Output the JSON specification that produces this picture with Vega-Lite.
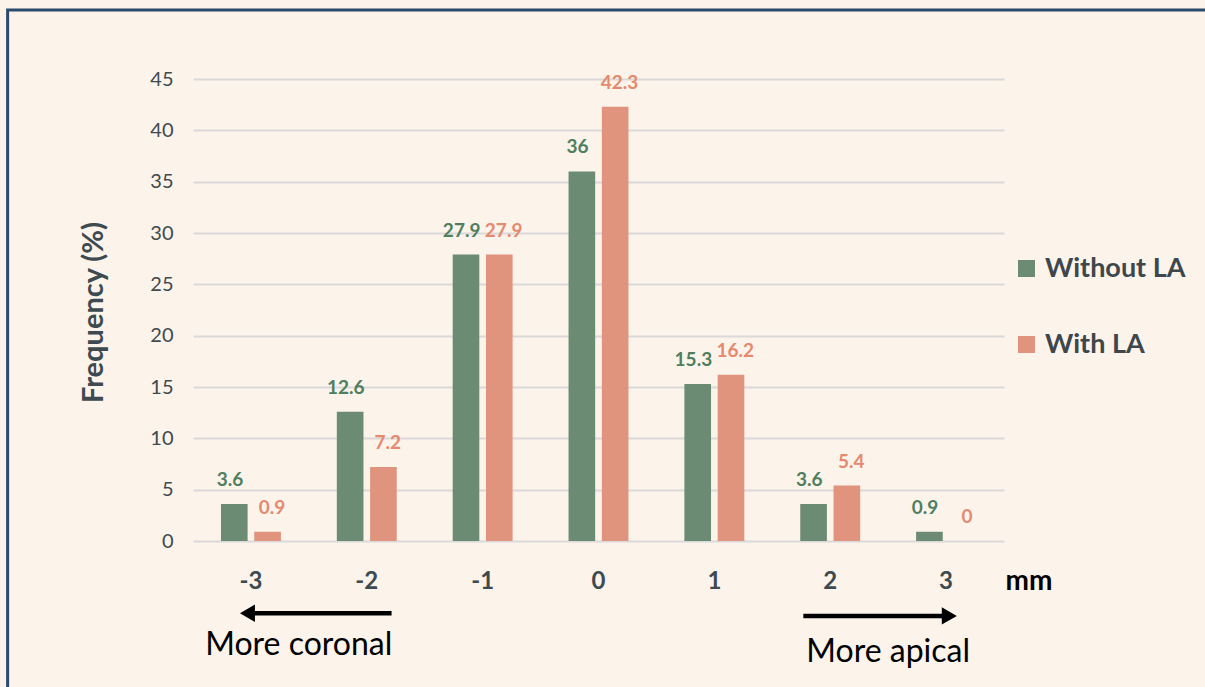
{
  "$schema": "https://vega.github.io/schema/vega-lite/v6.json",
  "width": 811,
  "height": 462,
  "autosize": {"type": "none"},
  "padding": {"left": 193, "top": 79, "right": 201, "bottom": 146},
  "background": "#fcf3ea",
  "config": {
    "font": "Lato",
    "view": {"stroke": null},
    "axisY": {
      "grid": true,
      "gridColor": "#d9d9d9",
      "gridWidth": 2,
      "domain": false,
      "ticks": false,
      "tickCount": 9,
      "labelFontSize": 20,
      "labelColor": "#3f4a4f",
      "labelPadding": 20,
      "titleFontSize": 29,
      "titleFontWeight": "bold",
      "titleColor": "#3d4a50",
      "titleAngle": 270,
      "titleBaseline": "alphabetic",
      "titleAlign": "center",
      "titleX": -91,
      "titleY": 233
    }
  },
  "datasets": {
    "freq": [
      {"mm": "-3", "group": "Without LA", "value": 3.6},
      {"mm": "-3", "group": "With LA", "value": 0.9},
      {"mm": "-2", "group": "Without LA", "value": 12.6},
      {"mm": "-2", "group": "With LA", "value": 7.2},
      {"mm": "-1", "group": "Without LA", "value": 27.9},
      {"mm": "-1", "group": "With LA", "value": 27.9},
      {"mm": "0", "group": "Without LA", "value": 36},
      {"mm": "0", "group": "With LA", "value": 42.3},
      {"mm": "1", "group": "Without LA", "value": 15.3},
      {"mm": "1", "group": "With LA", "value": 16.2},
      {"mm": "2", "group": "Without LA", "value": 3.6},
      {"mm": "2", "group": "With LA", "value": 5.4},
      {"mm": "3", "group": "Without LA", "value": 0.9},
      {"mm": "3", "group": "With LA", "value": 0}
    ]
  },
  "layer": [
    {
      "data": {"name": "freq"},
      "mark": {"type": "bar"},
      "encoding": {
        "x": {
          "field": "mm", "type": "ordinal",
          "sort": ["-3", "-2", "-1", "0", "1", "2", "3"],
          "scale": {"type": "band", "paddingInner": 0, "paddingOuter": 0},
          "axis": {
            "title": null, "labelAngle": 0, "domain": false, "ticks": false,
            "labelFontSize": 24, "labelFontWeight": "bold", "labelColor": "#3d4a50",
            "labelBaseline": "alphabetic", "labelPadding": 47, "grid": false
          }
        },
        "xOffset": {
          "field": "group", "type": "nominal", "sort": ["Without LA", "With LA"],
          "scale": {"paddingInner": 0.2, "paddingOuter": 0.84}
        },
        "y": {
          "field": "value", "type": "quantitative", "title": "Frequency (%)",
          "scale": {"domain": [0, 45], "nice": false, "zero": true}
        },
        "color": {
          "field": "group", "type": "nominal",
          "scale": {"domain": ["Without LA", "With LA"], "range": ["#6b8b73", "#e0937d"]},
          "legend": {
            "title": null, "orient": "none", "legendX": 820, "legendY": 176,
            "symbolType": "square", "symbolSize": 289, "symbolStrokeWidth": 0,
            "symbolOpacity": 1,
            "labelFontSize": 27, "labelFontWeight": "bold", "labelColor": "#3d474c",
            "labelOffset": 5, "rowPadding": 48, "padding": 0
          }
        }
      }
    },
    {
      "data": {"name": "freq"},
      "mark": {"type": "text", "fontSize": 19, "fontWeight": "bold", "baseline": "alphabetic", "dy": -18},
      "encoding": {
        "x": {
          "field": "mm", "type": "ordinal",
          "sort": ["-3", "-2", "-1", "0", "1", "2", "3"],
          "scale": {"type": "band", "paddingInner": 0, "paddingOuter": 0},
          "axis": null
        },
        "xOffset": {
          "field": "group", "type": "nominal", "sort": ["Without LA", "With LA"],
          "scale": {"type": "band", "paddingInner": 0.3, "paddingOuter": 0.53}
        },
        "y": {
          "field": "value", "type": "quantitative", "title": "Frequency (%)",
          "scale": {"domain": [0, 45], "nice": false, "zero": true}
        },
        "text": {"field": "value", "type": "quantitative"},
        "color": {
          "field": "group", "type": "nominal",
          "scale": {"domain": ["Without LA", "With LA"], "range": ["#4f7f5f", "#e5896f"]},
          "legend": null
        }
      }
    },
    {
      "layer": [
        {
          "data": {"values": [{"x": -5.1, "x2": 12, "y": 51.72, "y2": -40}]},
          "mark": {"type": "rect", "fillOpacity": 0, "stroke": "#2c4a6c", "strokeWidth": 3},
          "encoding": {
            "x": {"field": "x", "type": "quantitative", "scale": {"domain": [-3.5, 3.5], "nice": false, "zero": false}, "axis": null},
            "x2": {"field": "x2"},
            "y": {"field": "y", "type": "quantitative", "title": "Frequency (%)", "scale": {"domain": [0, 45], "nice": false, "zero": true}},
            "y2": {"field": "y2"}
          }
        },
        {
          "data": {"values": [{"x": -3.03, "x2": -1.786, "y": -7.04}, {"x": 1.768, "x2": 3.028, "y": -7.3}]},
          "mark": {"type": "rule", "color": "black", "strokeWidth": 4.5},
          "encoding": {
            "x": {"field": "x", "type": "quantitative", "scale": {"domain": [-3.5, 3.5], "nice": false, "zero": false}, "axis": null},
            "x2": {"field": "x2"},
            "y": {"field": "y", "type": "quantitative", "title": "Frequency (%)", "scale": {"domain": [0, 45], "nice": false, "zero": true}}
          }
        },
        {
          "data": {"values": [{"x": -3.03, "y": -7.04}]},
          "mark": {"type": "point", "shape": "triangle-left", "filled": true, "color": "black", "opacity": 1, "size": 300},
          "encoding": {
            "x": {"field": "x", "type": "quantitative", "scale": {"domain": [-3.5, 3.5], "nice": false, "zero": false}, "axis": null},
            "y": {"field": "y", "type": "quantitative", "title": "Frequency (%)", "scale": {"domain": [0, 45], "nice": false, "zero": true}}
          }
        },
        {
          "data": {"values": [{"x": 3.028, "y": -7.3}]},
          "mark": {"type": "point", "shape": "triangle-right", "filled": true, "color": "black", "opacity": 1, "size": 300},
          "encoding": {
            "x": {"field": "x", "type": "quantitative", "scale": {"domain": [-3.5, 3.5], "nice": false, "zero": false}, "axis": null},
            "y": {"field": "y", "type": "quantitative", "title": "Frequency (%)", "scale": {"domain": [0, 45], "nice": false, "zero": true}}
          }
        },
        {
          "data": {"values": [
            {"x": -2.587, "y": -11.1, "label": "More coronal"},
            {"x": 2.5, "y": -11.76, "label": "More apical"}
          ]},
          "mark": {"type": "text", "fontSize": 32, "color": "black", "baseline": "alphabetic", "align": "center"},
          "encoding": {
            "x": {"field": "x", "type": "quantitative", "scale": {"domain": [-3.5, 3.5], "nice": false, "zero": false}, "axis": null},
            "y": {"field": "y", "type": "quantitative", "title": "Frequency (%)", "scale": {"domain": [0, 45], "nice": false, "zero": true}},
            "text": {"field": "label"}
          }
        },
        {
          "data": {"values": [{"x": 3.716, "y": -4.77, "label": "mm"}]},
          "mark": {"type": "text", "fontSize": 28, "fontWeight": "bold", "color": "black", "baseline": "alphabetic", "align": "center"},
          "encoding": {
            "x": {"field": "x", "type": "quantitative", "scale": {"domain": [-3.5, 3.5], "nice": false, "zero": false}, "axis": null},
            "y": {"field": "y", "type": "quantitative", "title": "Frequency (%)", "scale": {"domain": [0, 45], "nice": false, "zero": true}},
            "text": {"field": "label"}
          }
        }
      ]
    }
  ],
  "resolve": {
    "scale": {"x": "independent", "color": "independent", "xOffset": "independent"},
    "axis": {"x": "independent"},
    "legend": {"color": "independent"}
  }
}
